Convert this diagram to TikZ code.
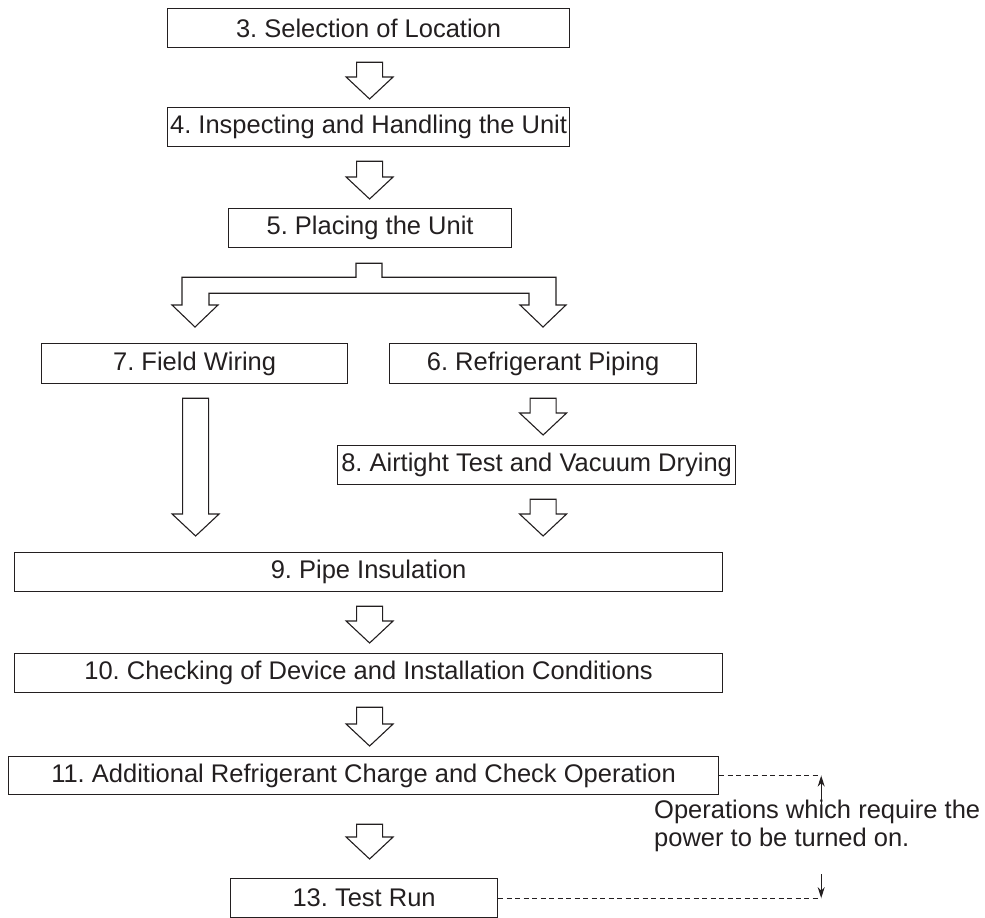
\documentclass[tikz,border=0pt]{standalone}
\usepackage{fontspec}
\setmainfont{Liberation Sans}
\usetikzlibrary{calc,arrows.meta}
\definecolor{ink}{HTML}{231F20}
\frenchspacing
\tikzset{
  stepbox/.style={draw=ink, line width=1.2pt, rectangle, inner sep=0pt, text=ink,
    font=\fontsize{25.5}{28}\selectfont, anchor=north west},
  blk/.style={draw=ink, line width=1.1pt, fill=white, line join=miter},
  dashlink/.style={draw=ink, line width=0.9pt, dash pattern=on 5pt off 3.5pt},
  notearrow/.style={draw=ink, line width=1.1pt, -{Stealth[length=11pt,width=7pt]}}
}
% block arrow: #1 = top centre of shaft, #2 = tip (only its y is used)
\newcommand{\blockarr}[2]{%
  \draw[blk] let \p1=(#1), \p2=(#2) in
    (\x1-13pt,\y1) -- (\x1+13pt,\y1) -- (\x1+13pt,\y2+22pt) -- (\x1+23.5pt,\y2+22pt)
    -- (\x1,\y2) -- (\x1-23.5pt,\y2+22pt) -- (\x1-13pt,\y2+22pt) -- cycle;}
\begin{document}
\begin{tikzpicture}[x=1pt,y=1pt]
\useasboundingbox (0,0) rectangle (985,-918);
% boxes
\node[stepbox, minimum width=402pt, minimum height=39pt] (b3) at (167,-8) {3. Selection of Location};
\node[stepbox, minimum width=402pt, minimum height=39pt] (b4) at (167,-107) {4. Inspecting and Handling the Unit};
\node[stepbox, minimum width=283pt, minimum height=39pt] (b5) at (228,-208) {5. Placing the Unit};
\node[stepbox, minimum width=306pt, minimum height=40pt] (b7) at (41,-343) {7. Field Wiring};
\node[stepbox, minimum width=307pt, minimum height=40pt] (b6) at (389,-343) {6. Refrigerant Piping};
\node[stepbox, minimum width=398pt, minimum height=39pt] (b8) at (337,-445) {8. Airtight Test and Vacuum Drying};
\node[stepbox, minimum width=708pt, minimum height=39pt] (b9) at (14,-552) {9. Pipe Insulation};
\node[stepbox, minimum width=708pt, minimum height=39pt] (b10) at (14,-653) {10. Checking of Device and Installation Conditions};
\node[stepbox, minimum width=710pt, minimum height=38pt] (b11) at (8,-756) {11. Additional Refrigerant Charge and Check Operation};
\node[stepbox, minimum width=267pt, minimum height=39pt] (b13) at (230,-878) {13. Test Run};
% block arrows
\blockarr{$(b3.south)+(1,-14)$}{$(b4.north)+(0,8)$}
\blockarr{$(b4.south)+(1,-14)$}{$(b5.north)+(0,9)$}
\blockarr{$(b6.south)+(0,-14)$}{$(b8.north)+(0,10)$}
\blockarr{$(b6.south |- b8.south)+(0,-14)$}{$(b9.north)+(0,16)$}
\blockarr{$(b7.south)+(1,-14)$}{$(b9.north)+(0,16)$}
\blockarr{$(b9.south)+(1,-14)$}{$(b10.north)+(0,10)$}
\blockarr{$(b10.south)+(1,-14)$}{$(b11.north)+(0,10)$}
\blockarr{$(b11.south)+(6,-29)$}{$(b13.north)+(0,19)$}
% split arrow from b5 to b7 and b6
\draw[blk] let \p1=(b5.south), \p2=(b7.north), \p3=(b6.north) in
  (356,\y1-15) -- (382,\y1-15) -- (382,\y1-29) -- (556,\y1-29) -- (556,\y3+38)
  -- (566,\y3+38) -- (543,\y3+16) -- (520,\y3+38) -- (529,\y3+38) -- (529,\y1-45)
  -- (209,\y1-45) -- (209,\y2+38) -- (218,\y2+38) -- (195,\y2+16) -- (172,\y2+38)
  -- (182,\y2+38) -- (182,\y1-29) -- (356,\y1-29) -- cycle;
% annotation
\coordinate (d1) at ($(b11.east)+(102,0)$);
\coordinate (d2) at (d1 |- b13.east);
\draw[dashlink] (b11.east) -- (d1);
\draw[dashlink] (b13.east) -- (d2);
\node[text=ink, font=\fontsize{25.5}{28}\selectfont, align=left, anchor=west, inner sep=0pt] (note)
  at (654,-826) {Operations which require the\\power to be turned on.};
\draw[notearrow] ($(d1)+(0,-32)$) -- (d1);
\draw[notearrow] ($(d2)+(0,24)$) -- (d2);
\end{tikzpicture}
\end{document}
